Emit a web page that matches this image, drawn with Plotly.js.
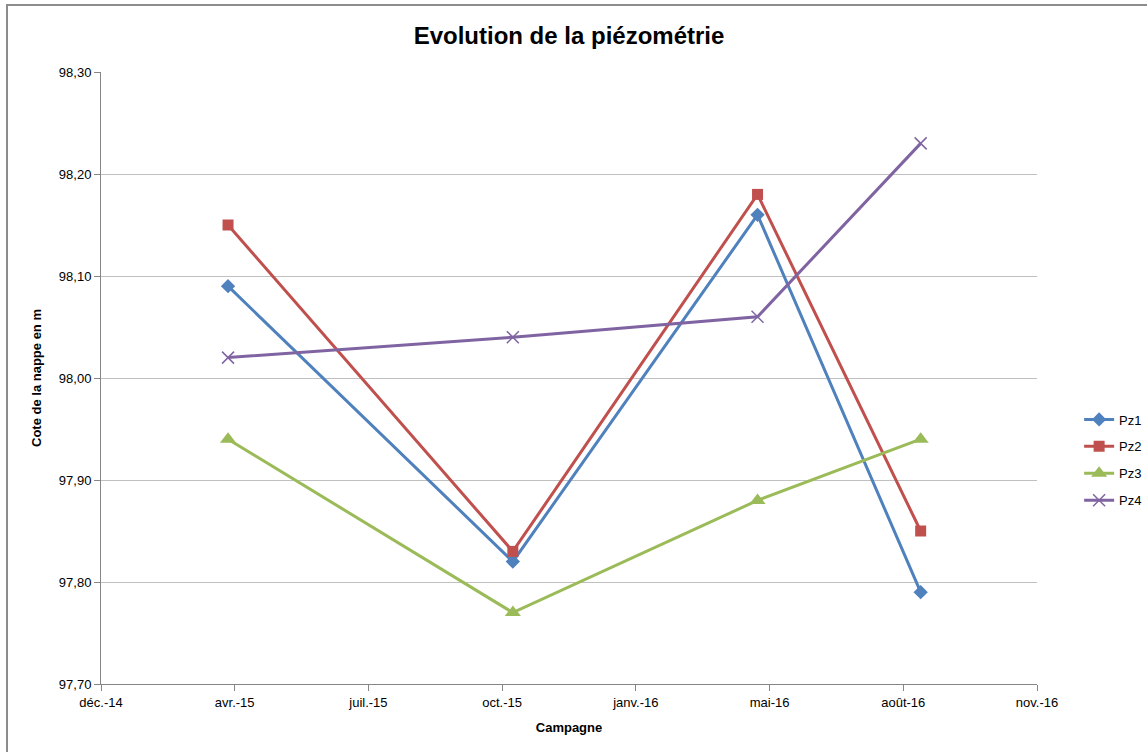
<!DOCTYPE html>
<html>
<head>
<meta charset="utf-8">
<script src="https://cdn.plot.ly/plotly-3.0.1.min.js"></script>
<style>html,body{margin:0;padding:0;background:#fff;}#chart{width:1147px;height:752px;}</style>
</head>
<body>
<div id="chart"></div>
<script>
// Data
const campagnes = ['2015-04-01', '2015-10-31', '2016-05-01', '2016-08-31'];
const pz1 = [98.09, 97.82, 98.16, 97.79];
const pz2 = [98.15, 97.83, 98.18, 97.85];
const pz3 = [97.94, 97.77, 97.88, 97.94];
const pz4 = [98.02, 98.04, 98.06, 98.23];
const seriesNames = ['Pz1', 'Pz2', 'Pz3', 'Pz4'];
const xTickVals = ['2014-12-27', '2015-04-06', '2015-07-15', '2015-10-23', '2016-01-31', '2016-05-10', '2016-08-18', '2016-11-26'];
const xTickText = ['déc.-14', 'avr.-15', 'juil.-15', 'oct.-15', 'janv.-16', 'mai-16', 'août-16', 'nov.-16'];
const yTickVals = [97.7, 97.8, 97.9, 98.0, 98.1, 98.2, 98.3];
const yTickText = ['97,70', '97,80', '97,90', '98,00', '98,10', '98,20', '98,30'];

const colors = ['#4F81BD', '#C0504D', '#9BBB59', '#8064A2'];
const symbols = ['diamond', 'square', 'triangle-up', 'x-thin-open'];
const sizes = [11, 11, 14, 12];
const allY = [pz1, pz2, pz3, pz4];

const traces = allY.map((ys, i) => ({
  type: 'scatter',
  mode: 'lines+markers',
  name: seriesNames[i],
  legendgroup: seriesNames[i],
  x: campagnes,
  y: ys,
  line: {color: colors[i], width: 3},
  marker: {symbol: symbols[i], size: sizes[i], color: colors[i],
           line: {color: colors[i], width: i === 3 ? 1.5 : 0}}
}));

const fnt = 'Liberation Sans, Arial, sans-serif';
const layout = {
  width: 1147, height: 752,
  paper_bgcolor: '#ffffff', plot_bgcolor: '#ffffff',
  margin: {l: 101, r: 110, t: 72, b: 68, autoexpand: false},
  font: {family: fnt, color: '#000'},
  title: {text: '<b>Evolution de la piézométrie</b>', x: 0.5, xanchor: 'center', y: 0.952, yanchor: 'middle',
          xref: 'paper', font: {size: 24, family: fnt, color: '#000'}},
  xaxis: {
    type: 'date',
    range: ['2014-12-27', '2016-11-26'],
    tickmode: 'array', tickvals: xTickVals, ticktext: xTickText,
    showgrid: false, zeroline: false,
    showline: true, linecolor: '#868686', linewidth: 1,
    ticks: 'outside', ticklen: 6, tickcolor: '#868686',
    tickfont: {size: 13, family: fnt, color: '#000'},
    title: {text: '<b>Campagne</b>', standoff: 14, font: {size: 13, family: fnt, color: '#000'}}
  },
  yaxis: {
    range: [97.7, 98.3],
    tickmode: 'array', tickvals: yTickVals, ticktext: yTickText,
    showgrid: true, gridcolor: '#c0c0c0', gridwidth: 1,
    zeroline: false,
    showline: true, linecolor: '#868686', linewidth: 1,
    ticks: 'outside', ticklen: 6, tickcolor: '#868686',
    tickfont: {size: 13, family: fnt, color: '#000'},
    title: {text: '<b>Cote de la nappe en m</b>', standoff: 14, font: {size: 13, family: fnt, color: '#000'}}
  },
  legend: {
    x: 1.045, xanchor: 'left', y: 0.366, yanchor: 'middle',
    font: {size: 13, family: fnt, color: '#000'},
    tracegroupgap: 7, itemwidth: 30, bgcolor: 'rgba(0,0,0,0)'
  },
  shapes: [{
    type: 'rect', xref: 'paper', yref: 'paper',
    x0: (7 - 101) / 936, x1: (1150 - 101) / 936,
    y0: -0.2, y1: (684 - 5) / 612,
    line: {color: '#8c8c8c', width: 2}, fillcolor: 'rgba(0,0,0,0)', layer: 'below'
  }]
};

Plotly.newPlot('chart', traces, layout, {displayModeBar: false, staticPlot: true});
</script>
</body>
</html>
